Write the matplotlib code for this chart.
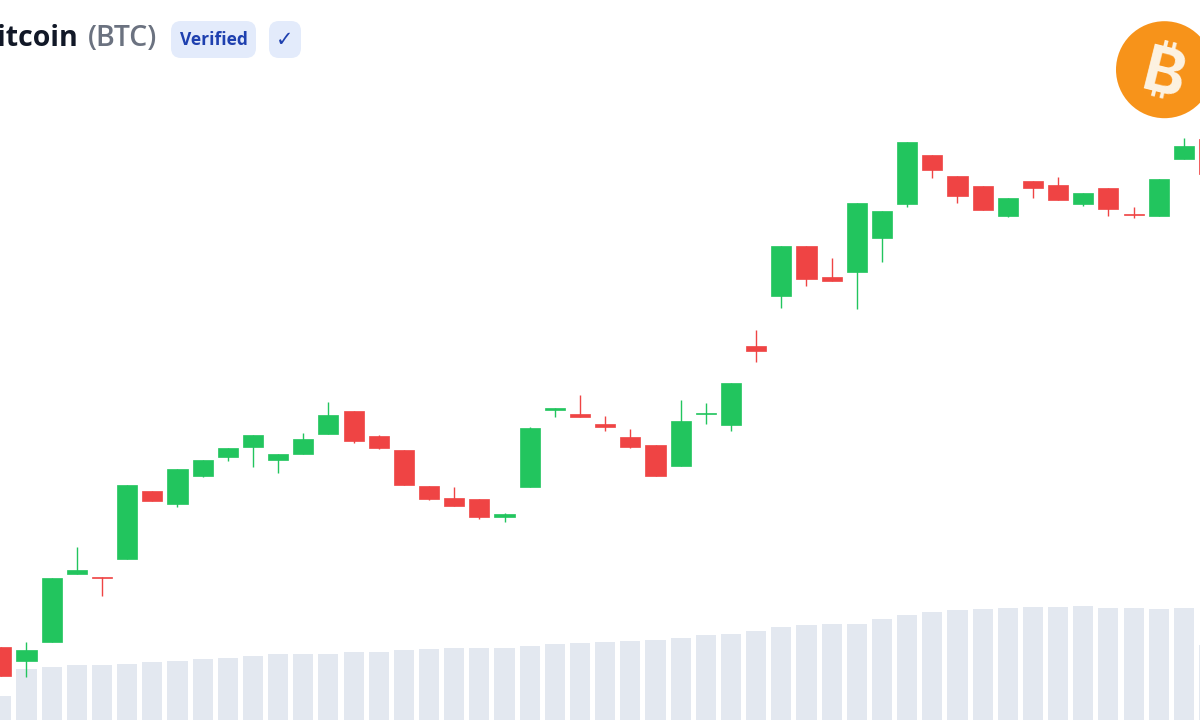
import matplotlib
matplotlib.use("Agg")
import matplotlib.pyplot as plt
from matplotlib.patches import Circle, FancyBboxPatch
from matplotlib.transforms import IdentityTransform

# candle values (no scale shown, units are chart heights)
opens = [73.3, 59, 78, 146, 143.3, 161, 229.3, 216, 244.3, 263.3, 273, 260.5, 266.3, 285.7, 308.7, 284.3, 270,
         234.3, 222, 220.7, 202.7, 233.3, 310.5, 305.7, 296.3, 283.3, 274.7, 254.3, 306.5, 295, 374.3, 424.3,
         473.7, 442.7, 448.3, 481.7, 516, 565.3, 544, 534.3, 504.3, 539.3, 535, 516, 532.3, 505.7, 504.3, 561, 581]
closes = [44, 70, 142.3, 150, 142, 235, 219, 251, 260, 272.3, 284.7, 265.7, 280.7, 305, 278.7, 272, 234.7,
          220.7, 214, 203.3, 205.7, 292, 311.7, 302.7, 293.3, 273.3, 244.3, 299, 307.5, 336.7, 368.7, 473.7,
          440.7, 439.3, 516.7, 509.3, 578, 550.3, 524.3, 510, 522, 531.7, 520, 527.3, 511.3, 505, 540.7, 574.3, 546]
highs = [73.3, 78, 142.3, 173.3, 143.3, 235, 229.3, 251, 260, 272.3, 285.5, 265.7, 286.7, 318.3, 308.7, 285, 270,
         234.3, 233.3, 220.7, 207, 293, 311.7, 325.3, 304.3, 290.7, 275, 320, 317.3, 336.7, 390, 473.7,
         473.7, 462.3, 516.7, 509.3, 578, 565.3, 544, 534.3, 522, 539.3, 543.3, 527.3, 532.3, 513.3, 541.3, 582.3, 581]
lows = [44, 43, 78, 146, 124, 161, 219, 213, 243.5, 259, 253.3, 247, 266.3, 285.7, 277.5, 271, 234.7,
        219.7, 214, 201, 197.7, 233.3, 303.3, 302.7, 289.3, 272, 244.3, 254.3, 296.3, 289.3, 357.7, 412.3,
        434.3, 439.3, 411, 458.3, 512.7, 541.7, 516.7, 510, 503.3, 522.3, 520, 514, 504.3, 501.7, 504.3, 561, 546]
volumes = [24, 51, 53, 55, 55, 56.3, 58, 59.3, 60.7, 62, 64, 66, 66, 66.3, 67.7, 68.3, 70.3, 71.3, 72, 72, 71.7,
           73.7, 76, 77, 78, 79.3, 80, 82.3, 84.7, 85.7, 88.7, 93, 95.3, 96, 96.3, 101, 105, 108, 110, 111, 112,
           112.7, 113.3, 113.7, 112, 112, 111.3, 112, 75]

green = "#22c55e"
red = "#ef4444"
volume_color = "#e3e8f0"

plt.rcParams["font.family"] = ["Open Sans", "DejaVu Sans"]

fig = plt.figure(figsize=(12, 7.2), dpi=100, facecolor="white")
ax = fig.add_axes([0, 0, 1, 1])
ax.set_xlim(-0.052, 47.64)
ax.set_ylim(0, 720)
ax.axis("off")

x = list(range(len(opens)))
colors = [green if c >= o else red for o, c in zip(opens, closes)]
bottoms = [min(o, c) for o, c in zip(opens, closes)]
heights = [abs(c - o) for o, c in zip(opens, closes)]

ax.bar(x, volumes, width=0.8, color=volume_color, zorder=1)
ax.vlines(x, lows, highs, colors=colors, linewidth=1.0, zorder=2)
ax.bar(x, heights, bottom=bottoms, width=0.8, color=colors, edgecolor=colors, linewidth=0.5, zorder=3)

px = IdentityTransform()


def badge(left, right, label, size, weight):
    box = FancyBboxPatch((left + 10, 662 + 10), right - left - 20, 37 - 20,
                         boxstyle="round,pad=10,rounding_size=10", facecolor="#e3ebfb",
                         edgecolor="none", transform=px, zorder=5)
    fig.add_artist(box)
    fig.text((left + right) / 2 / 1200, 1 - 40 / 720, label, ha="center", va="center",
             fontsize=size, fontweight=weight, color="#1e40af", zorder=6)


fig.text(78 / 1200, 1 - 39 / 720, "Bitcoin", ha="right", va="center", fontsize=20.5,
         fontweight="bold", color="#111827")
fig.text(88 / 1200, 1 - 39 / 720, "(BTC)", ha="left", va="center", fontsize=20.5,
         fontweight="semibold", color="#6b7280")
badge(171, 256, "Verified", 12.5, "bold")
badge(269, 301, "✓", 15, "normal")

fig.add_artist(Circle((1164.5, 720 - 69.7), 48.5, facecolor="#f7931a", edgecolor="none", transform=px, zorder=5))
fig.text(1164 / 1200, 1 - 77 / 720, "₿", ha="center", va="center", fontsize=46, fontweight="bold",
         color="#fdf3e3", rotation=-14, family=["Inter", "Noto Sans", "Roboto", "Lato", "Liberation Sans", "DejaVu Sans"],
         zorder=6)

fig.savefig("out.png", dpi=100)
